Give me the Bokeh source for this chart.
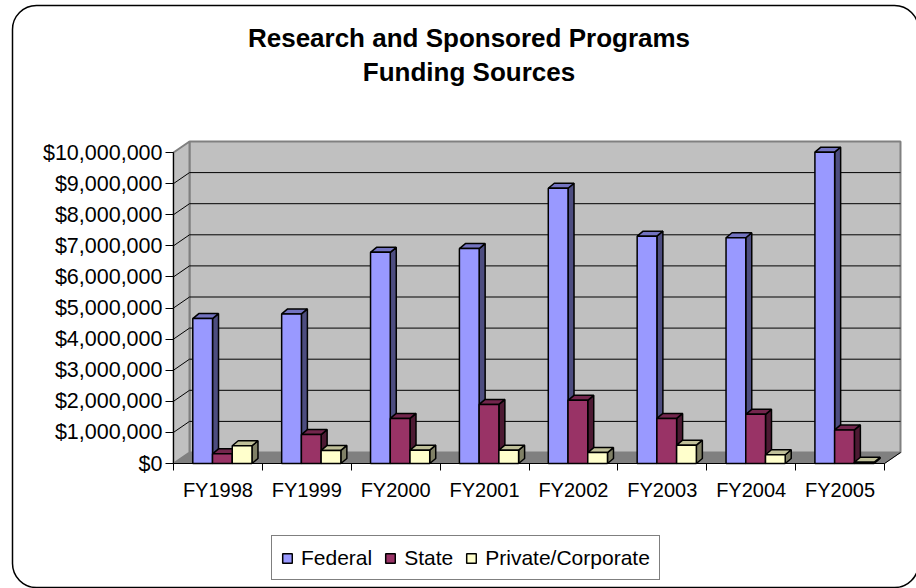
from bokeh.plotting import figure
from bokeh.models import (FixedTicker, NumeralTickFormatter, Label, Legend,
                          LegendItem, BoxAnnotation, Range1d)
from bokeh.embed import file_html
from bokeh.resources import INLINE

# ---------------- data ----------------
categories = ["FY1998", "FY1999", "FY2000", "FY2001", "FY2002", "FY2003", "FY2004", "FY2005"]
federal = [4660000, 4810000, 6790000, 6910000, 8850000, 7310000, 7260000, 10010000]
state = [310000, 930000, 1450000, 1900000, 2030000, 1450000, 1580000, 1080000]
private = [570000, 420000, 430000, 430000, 350000, 590000, 280000, 40000]
series_names = ["Federal", "State", "Private/Corporate"]
y_ticks = [0, 1000000, 2000000, 3000000, 4000000, 5000000,
           6000000, 7000000, 8000000, 9000000, 10000000]
title_lines = ["Research and Sponsored Programs", "Funding Sources"]

# ---------------- layout constants ----------------
W, H = 916, 588
PX_X = 88.875            # px per category
PX_Y = 31.1 / 1e6        # px per dollar
X0, Y0 = 173, 463        # pixel position of data origin
FONT = "Liberation Sans"


def xd(px):
    return (px - X0) / PX_X


def yd(py):
    return (Y0 - py) / PX_Y


WDX = 16 / PX_X          # wall depth offset
WDY = 11 / PX_Y
BDX = 6 / PX_X           # bar depth offset
BDY = 5 / PX_Y
BW = 0.222
OFFS = [0.217, 0.439, 0.661]
YMAX = y_ticks[-1]
N = len(categories)

face_colors = [
    ("#9999FF", "#4D4D80", "#7373C0"),
    ("#993366", "#4D1A33", "#73264D"),
    ("#FFFFCC", "#808066", "#C0C099"),
]

p = figure(width=W, height=H,
           x_range=Range1d(xd(0), xd(W)), y_range=Range1d(yd(H), yd(0)),
           output_backend="svg", toolbar_location=None,
           min_border=0)
p.outline_line_color = None
p.grid.visible = False
p.background_fill_color = "white"
p.border_fill_color = "white"

# ---------------- 3D walls ----------------
p.patch([0, N, N + WDX, WDX], [0, 0, WDY, WDY],
        fill_color="#808080", line_color="#808080", line_width=1)
p.patch([WDX, N + WDX, N + WDX, WDX], [WDY, WDY, YMAX + WDY, YMAX + WDY],
        fill_color="#C0C0C0", line_color="#808080", line_width=2)
p.patch([0, WDX, WDX, 0], [0, WDY, YMAX + WDY, YMAX],
        fill_color="#C0C0C0", line_color="#808080", line_width=2)
p.line([N, N + WDX], [0, WDY], line_color="black", line_width=1)

inner = y_ticks[1:-1]
p.multi_line([[WDX, N + WDX] for _ in inner], [[v + WDY, v + WDY] for v in inner],
             line_color="black", line_width=1)
p.multi_line([[0, WDX] for _ in inner], [[v, v + WDY] for v in inner],
             line_color="black", line_width=1)

# ---------------- bars ----------------
front_renderers = []
for s, vals in enumerate([federal, state, private]):
    fc, sc, tc = face_colors[s]
    fx, fy, sx, sy, tx, ty = [], [], [], [], [], []
    for i, v in enumerate(vals):
        x0 = i + OFFS[s]
        x1 = x0 + BW
        fx.append([x0, x1, x1, x0]); fy.append([0, 0, v, v])
        sx.append([x1, x1 + BDX, x1 + BDX, x1]); sy.append([0, BDY, v + BDY, v])
        tx.append([x0, x1, x1 + BDX, x0 + BDX]); ty.append([v, v, v + BDY, v + BDY])
    p.patches(sx, sy, fill_color=sc, line_color="black", line_width=1.5)
    p.patches(tx, ty, fill_color=tc, line_color="black", line_width=1.5)
    r = p.patches(fx, fy, fill_color=fc, line_color="black", line_width=1.5)
    front_renderers.append(r)

# ---------------- axes (fixed at the data origin) ----------------
ya = p.yaxis[0]
ya.fixed_location = 0
ya.ticker = FixedTicker(ticks=y_ticks, minor_ticks=[])
ya.formatter = NumeralTickFormatter(format="$0,0")
ya.bounds = (0, YMAX)
ya.major_tick_out = 8
ya.major_tick_in = 0
ya.major_label_standoff = 3
ya.major_label_text_font = FONT
ya.major_label_text_font_size = "21.5px"
ya.major_label_text_color = "black"
ya.axis_line_color = "black"
ya.major_tick_line_color = "black"

xa = p.xaxis[0]
xa.fixed_location = 0
centers = [i + 0.5 for i in range(N)]
xa.ticker = FixedTicker(ticks=centers, minor_ticks=list(range(N + 1)))
xa.major_label_overrides = {c: lab for c, lab in zip(centers, categories)}
xa.bounds = (0, N)
xa.major_tick_line_color = None
xa.major_tick_out = 0
xa.major_tick_in = 0
xa.minor_tick_out = 7
xa.minor_tick_in = 0
xa.minor_tick_line_color = "black"
xa.major_label_standoff = 8
xa.major_label_text_font = FONT
xa.major_label_text_font_size = "20px"
xa.major_label_text_color = "black"
xa.axis_line_color = "black"

# ---------------- title ----------------
for line, py in zip(title_lines, [37.7, 71]):
    p.add_layout(Label(x=xd(468.5), y=yd(py), text=line, text_align="center",
                       text_baseline="middle", text_font=FONT, text_font_size="26px",
                       text_font_style="bold", text_color="black"))

# ---------------- legend ----------------
legend = Legend(items=[LegendItem(label=n, renderers=[r])
                       for n, r in zip(series_names, front_renderers)],
                orientation="horizontal", location=(271, H - 580),
                padding=9, spacing=12, label_standoff=8, margin=0,
                glyph_width=12, glyph_height=12, label_height=25,
                label_text_font=FONT, label_text_font_size="21px",
                label_text_color="black",
                border_line_color="black", border_line_width=1,
                background_fill_color="white", background_fill_alpha=1)
p.add_layout(legend)

# ---------------- outer rounded border ----------------
p.add_layout(BoxAnnotation(left=xd(12), right=xd(918), top=yd(5), bottom=yd(587),
                           fill_color=None, fill_alpha=0, line_color="black",
                           line_width=1.5, line_alpha=1, border_radius=24))

open("out.html", "w").write(file_html(p, INLINE))
